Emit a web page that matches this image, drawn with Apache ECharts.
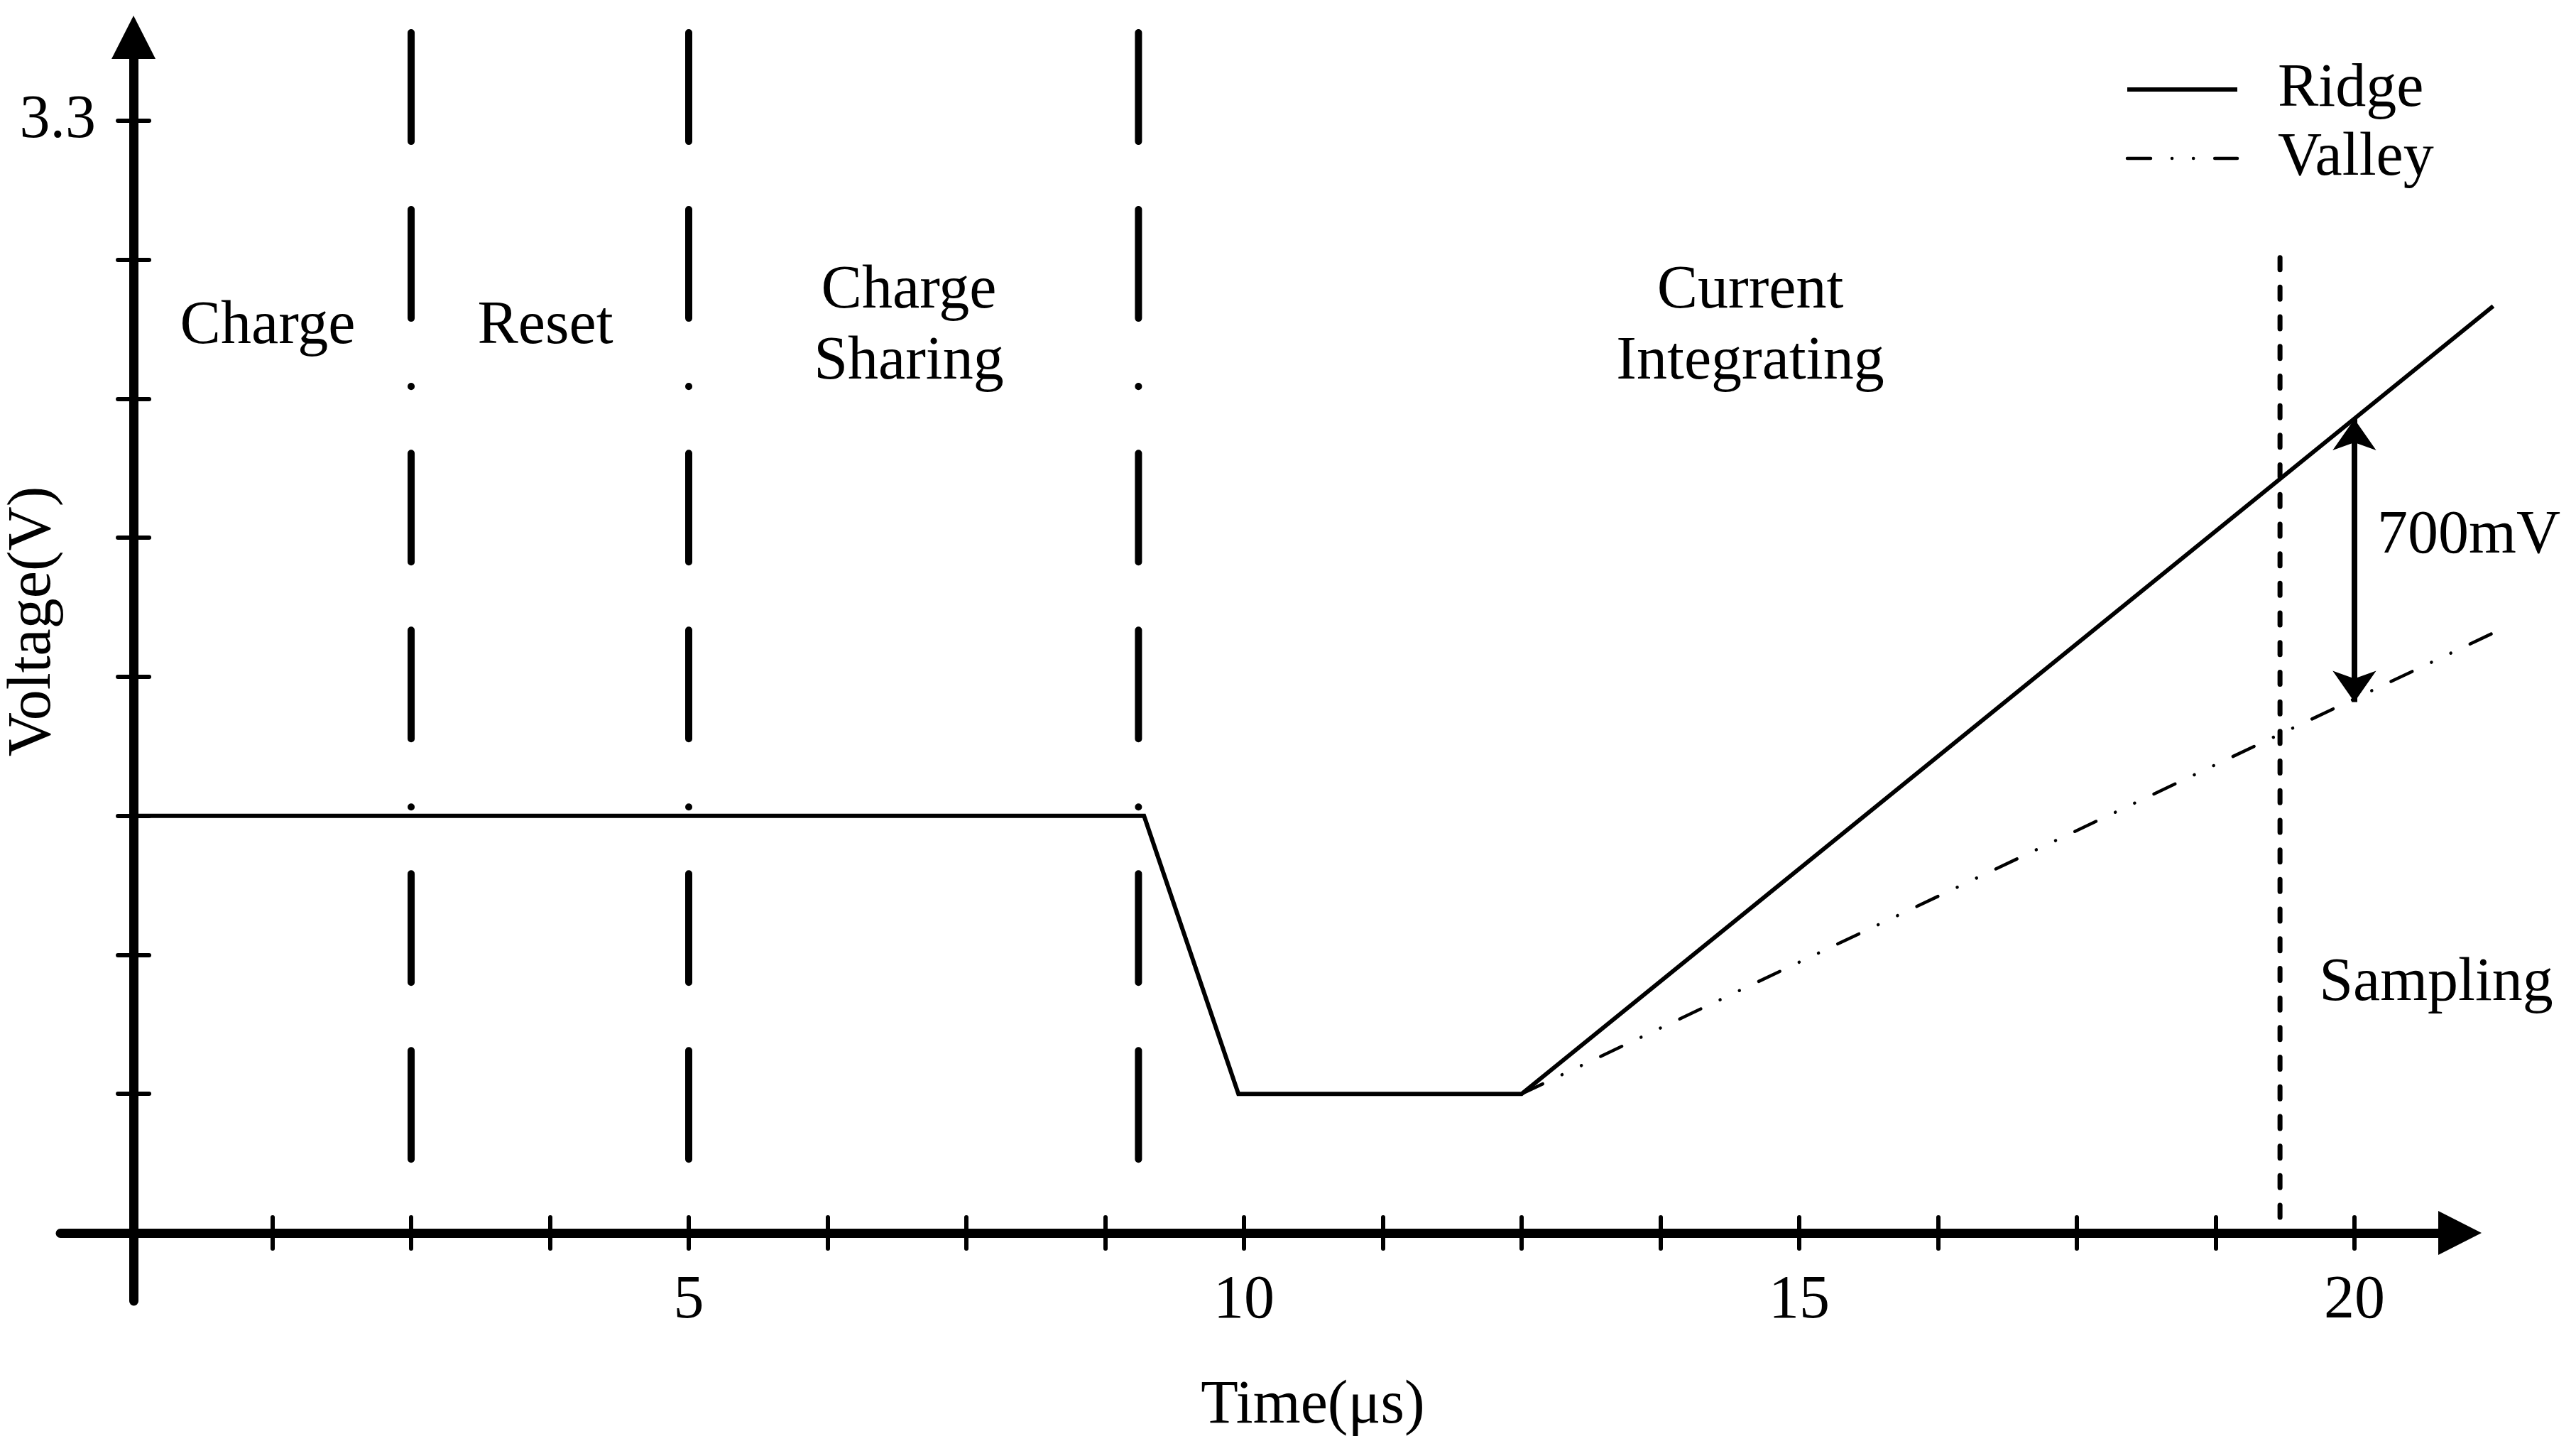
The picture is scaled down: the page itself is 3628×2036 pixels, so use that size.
<!DOCTYPE html>
<html>
<head>
<meta charset="utf-8">
<title>Pixel voltage timing</title>
<script src="https://cdn.jsdelivr.net/npm/echarts@6/dist/echarts.min.js"></script>
<style>
  html, body { margin: 0; padding: 0; background: #fff; }
  #chart-container { width: 3628px; height: 2036px; }
</style>
</head>
<body>
<div id="chart-container"></div>
<script>
// ---- data ----
var ridgeTime = [0, 9.1, 9.95, 12.5, 21.25];
var ridgeVolt = [1.2375, 1.2375, 0.4125, 0.4125, 2.75];
var valleyTime = [12.5, 21.25];
var valleyVolt = [0.4125, 1.78];

var phaseEdges = [2.5, 5, 9.05];        // long dash-dot separators
var phaseNames = ['Charge', 'Reset', 'Charge\nSharing', 'Current\nIntegrating'];
var samplingTime = 19.33;
var samplingTop = 2.894;
var gapMarker = [20, 2.415, 1.575];      // time, ridge volt, valley volt
var gapText = '700mV';

var xTicks = [0, 1.25, 2.5, 3.75, 5, 6.25, 7.5, 8.75, 10, 11.25, 12.5, 13.75, 15, 16.25, 17.5, 18.75, 20];
var xLabels = [5, 10, 15, 20];
var yTicks = [0.4125, 0.825, 1.2375, 1.65, 2.0625, 2.475, 2.8875, 3.3];
var yLabels = [3.3];

var FONT = '"Liberation Serif", "Times New Roman", serif';
var FS = 86;

function pairs(xs, ys) {
    return xs.map(function (x, i) { return [x, ys[i]]; });
}

var geoChart = echarts.init(document.getElementById('chart-container'));

var tickStyle = { color: '#000', width: 6, cap: 'round' };
var labelStyle = { color: '#000', fontFamily: FONT, fontSize: FS, lineHeight: FS };

// all marks sit on grid 1: same pixel scale as the drawn axes, but wider,
// so lines running past the arrow tips are not cut off
var onData = { xAxisIndex: 2, yAxisIndex: 2 };

var series = [
    Object.assign({
        name: 'Ridge',
        type: 'line',
        data: pairs(ridgeTime, ridgeVolt),
        symbol: 'none',
        lineStyle: { color: '#000', width: 6, join: 'miter' },
        z: 5
    }, onData),
    Object.assign({
        name: 'Valley',
        type: 'line',
        data: pairs(valleyTime, valleyVolt),
        symbol: 'none',
        lineStyle: { color: '#000', width: 4.5, type: [33, 30, 0.1, 30, 0.1, 30], cap: 'round' },
        z: 5
    }, onData),
    Object.assign({
        name: 'sampling',
        type: 'line',
        data: [[samplingTime, samplingTop], [samplingTime, 0]],
        symbol: 'none',
        lineStyle: { color: '#000', width: 7, type: [17, 24.7], cap: 'round' },
        z: 4
    }, onData),
    Object.assign({
        name: 'gap',
        type: 'line',
        data: [],
        symbol: 'none',
        markLine: {
            silent: true,
            symbol: ['arrow', 'arrow'],
            symbolSize: [46, 44],
            label: { show: false },
            lineStyle: { color: '#000', width: 8, type: 'solid' },
            data: [[
                { coord: [gapMarker[0], gapMarker[1]] },
                { coord: [gapMarker[0], gapMarker[2]] }
            ]]
        },
        z: 6
    }, onData)
];

phaseEdges.forEach(function (t) {
    series.push(Object.assign({
        name: 'edge' + t,
        type: 'line',
        data: [[t, 3.561], [t, 0.209]],
        symbol: 'none',
        lineStyle: { color: '#000', width: 10, type: [153, 96, 153, 96, 0.1, 94], cap: 'round' },
        z: 3
    }, onData));
});

function phaseText(name, x, y) {
    return {
        type: 'text', x: x, y: y, silent: true,
        style: {
            text: name, fill: '#000', font: FS + 'px ' + FONT,
            align: 'center', verticalAlign: 'middle', lineHeight: 100
        }
    };
}

var option = {
    animation: false,
    backgroundColor: '#fff',
    grid: [
        { left: 85, right: 163.5, top: 52.5, bottom: 204, outerBoundsMode: 'none' },
        { left: 85, right: 77.5, top: 27.6, bottom: 204, outerBoundsMode: 'none' }
    ],
    legend: {
        data: ['Ridge', 'Valley'],
        orient: 'vertical',
        left: 2988,
        top: 78,
        itemWidth: 155,
        itemHeight: 20,
        itemGap: 11,
        lineStyle: { width: 'inherit' },
        itemStyle: { opacity: 0 },
        textStyle: { color: '#000', fontFamily: FONT, fontSize: FS, lineHeight: FS, padding: [0, 0, 0, 52] }
    },
    xAxis: [
        {
            type: 'value', min: -0.659, max: 20.95, gridIndex: 0,
            axisLine: {
                onZero: true, onZeroAxisIndex: 0,
                symbol: ['none', 'triangle'], symbolSize: [62, 61],
                lineStyle: { color: '#000', width: 13 }
            },
            axisTick: { show: true, length: 22, customValues: xTicks, lineStyle: tickStyle },
            // labels are laid out from the grid edge, so pull them back up to the zero line
            axisLabel: Object.assign({ customValues: xLabels, margin: -43 }, labelStyle),
            splitLine: { show: false }
        },
        {
            type: 'value', min: -0.659, max: 20.95, gridIndex: 0, position: 'bottom',
            axisLine: { show: false, onZero: true, onZeroAxisIndex: 0 },
            axisTick: { show: true, inside: true, length: 22, customValues: xTicks, lineStyle: tickStyle },
            axisLabel: { show: false },
            splitLine: { show: false }
        },
        { type: 'value', min: -0.659, max: 21.5, gridIndex: 1, show: false }
    ],
    yAxis: [
        {
            type: 'value', min: -0.2023, max: 3.5476, gridIndex: 0,
            axisLine: {
                onZero: true, onZeroAxisIndex: 0,
                symbol: ['none', 'triangle'], symbolSize: [62, 61],
                lineStyle: { color: '#000', width: 13 }
            },
            axisTick: { show: true, length: 22, customValues: yTicks, lineStyle: tickStyle },
            axisLabel: Object.assign({ customValues: yLabels, margin: -50 }, labelStyle),
            splitLine: { show: false }
        },
        {
            type: 'value', min: -0.2023, max: 3.5476, gridIndex: 0, position: 'left',
            axisLine: { show: false, onZero: true, onZeroAxisIndex: 0 },
            axisTick: { show: true, inside: true, length: 22, customValues: yTicks, lineStyle: tickStyle },
            axisLabel: { show: false },
            splitLine: { show: false }
        },
        { type: 'value', min: -0.2023, max: 3.6, gridIndex: 1, show: false }
    ],
    graphic: [
        phaseText(phaseNames[0], 377, 460),
        phaseText(phaseNames[1], 768, 460),
        phaseText(phaseNames[2], 1280, 460),
        phaseText(phaseNames[3], 2465, 460),
        phaseText('Sampling', 3431, 1385),
        {
            type: 'text', x: 3348, y: 755, silent: true,
            style: { text: gapText, fill: '#000', font: FS + 'px ' + FONT, align: 'left', verticalAlign: 'middle' }
        },
        phaseText('Time(μs)', 1849, 1980),
        {
            type: 'text', x: 47, y: 875, rotation: Math.PI / 2, silent: true,
            style: { text: 'Voltage(V)', fill: '#000', font: FS + 'px ' + FONT, align: 'center', verticalAlign: 'middle' }
        }
    ],
    series: series
};

geoChart.setOption(option);
window.addEventListener('resize', geoChart.resize);
</script>
</body>
</html>
